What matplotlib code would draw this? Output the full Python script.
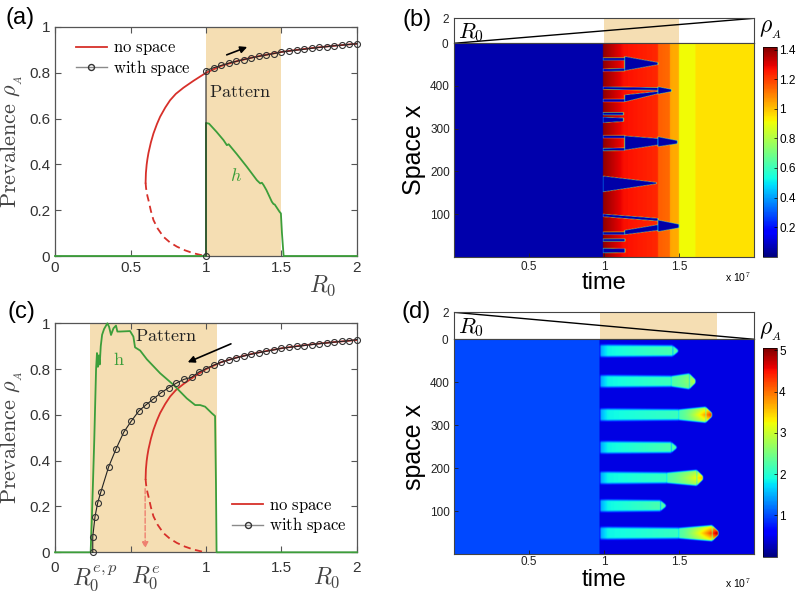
import numpy as np
import matplotlib
matplotlib.use('Agg')
import matplotlib.pyplot as plt
from matplotlib.lines import Line2D

plt.rcParams['mathtext.fontset'] = 'cm'
plt.rcParams['font.family'] = ['Liberation Sans', 'DejaVu Sans']

# ---------------- data: panels (a) and (c) ----------------
ns_stable_R0 = [0.600, 0.602, 0.607, 0.612, 0.619, 0.635, 0.652, 0.675, 0.696, 0.730, 0.762,
                0.800, 0.851, 0.917, 1.000, 1.100, 1.200, 1.300, 1.400, 1.500, 1.600, 1.700,
                1.800, 1.900, 2.000]
ns_stable_rho = [0.320, 0.362, 0.399, 0.423, 0.450, 0.496, 0.535, 0.576, 0.608, 0.648, 0.680,
                 0.708, 0.735, 0.765, 0.800, 0.830, 0.850, 0.866, 0.879, 0.891, 0.900, 0.908,
                 0.915, 0.921, 0.927]
ns_unstable_R0 = [0.600, 0.603, 0.607, 0.612, 0.619, 0.635, 0.652, 0.680, 0.718, 0.760, 0.807,
                  0.860, 0.917, 0.994]
ns_unstable_rho = [0.320, 0.297, 0.280, 0.262, 0.244, 0.197, 0.157, 0.120, 0.084, 0.060, 0.041,
                   0.025, 0.012, 0.000]

ws_a_R0 = [1.00, 1.00, 1.05, 1.10, 1.15, 1.20, 1.25, 1.30, 1.35, 1.40, 1.45, 1.50, 1.55, 1.60,
           1.65, 1.70, 1.75, 1.80, 1.85, 1.90, 1.95, 2.00]
ws_a_rho = [0.000, 0.810, 0.822, 0.832, 0.842, 0.850, 0.858, 0.865, 0.872, 0.878, 0.884, 0.891,
            0.895, 0.899, 0.903, 0.907, 0.911, 0.914, 0.918, 0.921, 0.924, 0.927]

h_a_R0 = [0.0, 1.0, 1.0, 1.02, 1.07, 1.116, 1.138, 1.15, 1.16, 1.204, 1.27, 1.337, 1.359, 1.37,
          1.381, 1.40, 1.436, 1.447, 1.455, 1.487, 1.496, 1.503, 1.514, 2.0]
h_a = [0.0, 0.0, 0.581, 0.578, 0.542, 0.506, 0.484, 0.488, 0.480, 0.445, 0.390, 0.331, 0.317,
       0.320, 0.310, 0.288, 0.237, 0.227, 0.225, 0.193, 0.186, 0.100, 0.0, 0.0]

ws_c_R0 = [0.25, 0.25, 0.265, 0.283, 0.303, 0.355, 0.404, 0.455, 0.504, 0.555, 0.601, 0.652,
           0.703, 0.754, 0.802, 0.853, 0.904, 0.952, 1.00, 1.05, 1.10, 1.15, 1.20, 1.25, 1.30,
           1.35, 1.40, 1.45, 1.50, 1.55, 1.60, 1.65, 1.70, 1.75, 1.80, 1.85, 1.90, 1.95, 2.00]
ws_c_rho = [0.000, 0.068, 0.156, 0.217, 0.262, 0.373, 0.451, 0.524, 0.572, 0.617, 0.643, 0.670,
            0.697, 0.719, 0.738, 0.755, 0.764, 0.787, 0.802, 0.817, 0.830, 0.840, 0.849, 0.857,
            0.865, 0.872, 0.878, 0.884, 0.891, 0.895, 0.899, 0.903, 0.907, 0.911, 0.914, 0.918,
            0.921, 0.924, 0.929]

h_c_R0 = [0.0, 0.236, 0.243, 0.250, 0.260, 0.272, 0.278, 0.284, 0.290, 0.296, 0.303, 0.312,
          0.325, 0.338, 0.347, 0.358, 0.371, 0.387, 0.404, 0.413, 0.431, 0.497, 0.519, 0.530,
          0.564, 0.608, 0.696, 0.785, 0.873, 0.928, 0.961, 0.994, 1.039, 1.060, 1.066, 1.070, 2.0]
h_c = [0.0, 0.0, 0.127, 0.272, 0.49, 0.80, 0.87, 0.81, 0.86, 0.82, 0.90, 0.95, 0.975, 0.99, 1.0,
       0.985, 0.949, 0.978, 0.99, 0.964, 0.964, 0.966, 0.942, 0.895, 0.881, 0.843, 0.782, 0.731,
       0.672, 0.643, 0.643, 0.636, 0.607, 0.595, 0.30, 0.0, 0.0]

pattern_a = (1.0, 1.5)
pattern_c = (0.235, 1.07)

# ---------------- data: panels (b) and (d) ----------------
time_scale = 1e7
strip_t = [0.0, 2.0]
strip_R0_b = [0.0, 2.0]
strip_R0_d = [2.0, 0.0]
pattern_b = (1.0, 1.5)
pattern_d = (0.97, 1.75)

# background of (b): time breakpoints and rho values at start / end of each interval
b_bg_t = [0.0, 0.993, 1.13, 1.36, 1.44, 1.50, 1.61, 2.0]
b_bg_v0 = [0.06, 1.40, 1.27, 1.15, 1.04, 0.915, 0.95]
b_bg_v1 = [0.06, 1.27, 1.23, 1.13, 1.03, 0.915, 0.95]
b_blue = 0.05
# blue (extinct) bands in (b): t_start, t_end, lo_start, hi_start, lo_end, hi_end (space)
b_bands = [
    (0.993, 1.138, 460, 466, 460, 466),
    (0.993, 1.138, 434, 440, 435, 441),
    (1.138, 1.360, 436, 469, 450, 455),
    (0.993, 1.360, 392, 398, 390, 396),
    (1.360, 1.450, 381, 398, 387, 392),
    (0.993, 1.138, 363, 369, 363, 369),
    (1.138, 1.360, 363, 379, 382, 387),
    (0.993, 1.130, 332, 338, 332, 338),
    (0.993, 1.130, 314, 327, 317, 325),
    (0.993, 1.138, 278, 284, 278, 284),
    (0.993, 1.138, 248, 254, 249, 255),
    (1.138, 1.360, 250, 283, 262, 277),
    (1.360, 1.490, 258, 281, 265, 272),
    (0.993, 1.350, 152, 189, 171, 174),
    (0.993, 1.360, 94, 100, 84, 90),
    (1.360, 1.500, 59, 86, 68, 76),
    (0.993, 1.138, 52, 58, 52, 58),
    (1.138, 1.360, 52, 62, 62, 75),
    (0.993, 1.140, 36, 42, 36, 42),
    (0.993, 1.140, 9, 20, 10, 19),
]

# (d): background levels and finger parameters
d_bg_left, d_bg_right, d_switch = 1.0, 0.45, 0.97
d_centers = [473, 402, 324, 248, 177, 112, 48]
d_tend = [1.495, 1.61, 1.72, 1.485, 1.66, 1.413, 1.763]
d_bulb_start = [0.0, 1.45, 1.50, 0.0, 1.42, 0.0, 1.50]
d_core = [2.2, 2.9, 4.4, 2.2, 3.6, 2.2, 5.0]
d_finger_vals = [1.45, 1.85, 2.25]   # start, after entry, at tip
d_half_width = 14
d_bulb_half_width = 18

# ---------------- styles ----------------
RED = '#D7302A'
GREEN = '#3C9E3A'
WHEAT = '#F5DEB3'
AX_COL = '#555555'
TXT_COL = '#333333'

W, H = 798, 596
fig = plt.figure(figsize=(W / 100, H / 100), dpi=100)


def ax_px(l, t, r, b):
    return fig.add_axes([l / W, 1 - b / H, (r - l) / W, (b - t) / H])


def ftext(x, y, s, **kw):
    fig.text(x / W, 1 - y / H, s, **kw)


def style_line_axes(ax):
    ax.set_xlim(0, 2)
    ax.set_ylim(0, 1)
    ax.set_xticks([0, 0.5, 1, 1.5, 2])
    ax.set_yticks([0, 0.2, 0.4, 0.6, 0.8, 1])
    ax.set_yticklabels(['0', '0.2', '0.4', '0.6', '0.8', '1'])
    ax.tick_params(direction='in', length=4, width=0.8, top=True, right=True,
                   labelsize=11, colors=AX_COL, labelcolor=TXT_COL)
    for sp in ax.spines.values():
        sp.set_color(AX_COL)
        sp.set_linewidth(0.9)


leg_handles = [Line2D([], [], color=RED, lw=1.3),
               Line2D([], [], color='#8a8a8a', lw=1.0, marker='o', ms=4.3, mfc='none', mec='#333333')]
leg_labels = [r'$\mathrm{no\ space}$', r'$\mathrm{with\ space}$']
leg_kw = dict(frameon=False, fontsize=12, handlelength=1.9, handletextpad=0.35,
              labelspacing=0.02, borderaxespad=0.2)

# ---------------- panel (a) ----------------
axa = ax_px(55, 27, 357, 256)
style_line_axes(axa)
axa.set_xticklabels(['0', '0.5', '1', '1.5', '2'])
axa.axvspan(*pattern_a, color=WHEAT, lw=0, zorder=0)
axa.plot(ns_stable_R0, ns_stable_rho, color=RED, lw=1.3, zorder=3)
axa.plot(ns_unstable_R0, ns_unstable_rho, color=RED, lw=1.3, ls=(0, (4, 2.5)), zorder=3)
axa.plot(h_a_R0, h_a, color=GREEN, lw=1.3, zorder=4, clip_on=False)
axa.plot(ws_a_R0, ws_a_rho, color='#222222', lw=0.8, marker='o', ms=4.3, mfc='none',
         mec='#333333', mew=0.8, zorder=5, clip_on=False)
axa.annotate('', xy=(1.29, 0.917), xytext=(1.12, 0.874),
             arrowprops=dict(arrowstyle='-|>', color='black', lw=1.2, mutation_scale=10))
axa.text(1.227, 0.712, r'$\mathrm{Pattern}$', fontsize=13, ha='center', va='center', color='#222222')
axa.text(1.2, 0.346, r'$h$', fontsize=13, ha='center', va='center', color=GREEN)
axa.legend(leg_handles, leg_labels, loc='upper left', bbox_to_anchor=(0.035, 0.985), **leg_kw)
axa.set_ylabel(r'$\mathrm{Prevalence}\ \rho_{_A}$', fontsize=16, color='#444444')
axa.yaxis.set_label_coords(-0.098, 0.5)
axa.text(0.887, -0.13, r'$R_0$', transform=axa.transAxes, fontsize=17, ha='center', va='center',
         color='#444444')

# ---------------- panel (c) ----------------
axc = ax_px(55, 323.3, 357, 552.3)
style_line_axes(axc)
axc.set_xticklabels(['0', '', '1', '1.5', '2'])
axc.tick_params(axis='x', pad=6)
axc.axvspan(*pattern_c, color=WHEAT, lw=0, zorder=0)
axc.plot(ns_stable_R0, ns_stable_rho, color=RED, lw=1.3, zorder=3)
axc.plot(ns_unstable_R0, ns_unstable_rho, color=RED, lw=1.3, ls=(0, (4, 2.5)), zorder=3)
axc.annotate('', xy=(0.597, 0.005), xytext=(0.597, 0.29),
             arrowprops=dict(arrowstyle='-|>', color='#EE8070', lw=1.0, ls='--',
                             mutation_scale=9), zorder=3)
axc.plot(h_c_R0, h_c, color=GREEN, lw=1.3, zorder=4, clip_on=False)
axc.plot(ws_c_R0, ws_c_rho, color='#222222', lw=0.8, marker='o', ms=4.3, mfc='none',
         mec='#333333', mew=0.8, zorder=5, clip_on=False)
axc.annotate('', xy=(0.862, 0.825), xytext=(1.182, 0.915),
             arrowprops=dict(arrowstyle='-|>', color='black', lw=1.2, mutation_scale=10))
axc.text(0.736, 0.942, r'$\mathrm{Pattern}$', fontsize=13, ha='center', va='center', color='#222222')
axc.text(0.42, 0.836, r'$\mathrm{h}$', fontsize=13, ha='center', va='center', color=GREEN)
axc.legend(leg_handles, leg_labels, loc='lower right', bbox_to_anchor=(1.0, 0.03), **leg_kw)
axc.set_ylabel(r'$\mathrm{Prevalence}\ \rho_{_A}$', fontsize=16, color='#444444')
axc.yaxis.set_label_coords(-0.098, 0.5)
axc.text(0.90, -0.112, r'$R_0$', transform=axc.transAxes, fontsize=17, ha='center', va='center',
         color='#444444')
axc.text(0.265, -0.112, r'$R_0^{e,p}$', transform=axc.get_xaxis_transform(), fontsize=17,
         ha='center', va='center', color='#444444')
axc.text(0.603, -0.112, r'$R_0^{e}$', transform=axc.get_xaxis_transform(), fontsize=17,
         ha='center', va='center', color='#444444')

# ---------------- heatmap fields ----------------
nt, nsp = 600, 430
t_grid = np.linspace(0, 2, nt)
s_grid = np.linspace(0, 500, nsp)
T, S = np.meshgrid(t_grid, s_grid)


def band(t0, t1, lo0, hi0, lo1, hi1, soft_s=1.6, soft_t=0.008):
    f = np.clip((T - t0) / (t1 - t0), 0, 1)
    lo = lo0 + (lo1 - lo0) * f
    hi = hi0 + (hi1 - hi0) * f
    ms = np.clip(np.minimum(S - lo, hi - S) / soft_s + 0.5, 0, 1)
    mt = np.clip(np.minimum(T - t0, t1 - T) / soft_t + 0.5, 0, 1)
    return ms * mt


# (b)
field_b = np.zeros_like(T)
for i in range(len(b_bg_v0)):
    ta, tb = b_bg_t[i], b_bg_t[i + 1]
    sel = (T >= ta) & (T <= tb)
    frac = (T - ta) / (tb - ta)
    field_b = np.where(sel, b_bg_v0[i] + (b_bg_v1[i] - b_bg_v0[i]) * frac, field_b)
mask_b = np.zeros_like(T)
for bd in b_bands:
    mask_b = np.maximum(mask_b, band(*bd))
field_b = field_b * (1 - mask_b) + b_blue * mask_b

# (d)
field_d = np.where(T < d_switch, d_bg_left, d_bg_right)
t0d = d_switch + 0.005
for c, te, tbulb, core in zip(d_centers, d_tend, d_bulb_start, d_core):
    hw = d_half_width
    tcap = te - 0.035 if tbulb == 0 else tbulb
    m = band(t0d, tcap, c - hw, c + hw, c - hw + 2, c + hw - 2, soft_s=7, soft_t=0.01)
    if tbulb == 0:
        m = np.maximum(m, band(tcap, te, c - hw + 2, c + hw - 2, c - 2, c + 2, soft_s=5, soft_t=0.01))
    vb = np.interp(T, [t0d, t0d + 0.05, te], d_finger_vals)
    field_d = np.maximum(field_d, field_d * (1 - m) + vb * m)
    if tbulb > 0:
        hb = d_bulb_half_width
        mb = np.maximum(band(tbulb, te - 0.04, c - hw + 2, c + hw - 2, c - hb, c + hb, soft_s=5),
                        band(te - 0.04, te, c - hb, c + hb, c - 4, c + 4, soft_s=4))
        ramp = np.clip((T - tbulb) / (te - tbulb), 0, 1) ** 1.6
        prof = np.clip(1 - np.abs(S - c) / hb, 0, 1)
        vbulb = d_finger_vals[2] + (core - d_finger_vals[2]) * ramp * (0.4 + 0.6 * prof)
        field_d = np.maximum(field_d, field_d * (1 - mb) + vbulb * mb)


def heat_panel(top_strip, top_img, bot_img, cb_top, cb_bot, field, vmax, cticks, strip_R0,
               pattern, ylab, xlab_y, exp_y, tpad):
    axs = ax_px(454, top_strip, 754, top_img)
    axs.set_xlim(0, 2 * time_scale)
    axs.set_ylim(0, 2)
    axs.axvspan(pattern[0] * time_scale, pattern[1] * time_scale, color=WHEAT, lw=0)
    axs.plot(np.array(strip_t) * time_scale, strip_R0, color='black', lw=1.0)
    axs.set_xticks([])
    axs.set_yticks([0, 2])
    axs.tick_params(axis='y', length=0, labelsize=8.5, pad=4, colors='#222222')
    for sp in axs.spines.values():
        sp.set_color('#444444')
        sp.set_linewidth(0.8)
    axs.text(0.012, 0.43, r'$R_0$', transform=axs.transAxes, fontsize=16, ha='left', va='center')

    axi = ax_px(454, top_img, 754, bot_img)
    im = axi.imshow(field, origin='lower', aspect='auto', cmap='jet', vmin=0, vmax=vmax,
                    extent=[0, 2 * time_scale, 0, 500], interpolation='bilinear')
    axi.set_xlim(0, 2 * time_scale)
    axi.set_ylim(0, 500)
    axi.set_xticks([0.5 * time_scale, 1.0 * time_scale, 1.5 * time_scale])
    axi.set_xticklabels(['0.5', '1', '1.5'])
    axi.set_yticks([100, 200, 300, 400])
    axi.tick_params(direction='in', length=3, width=0.6, labelsize=8.5, colors='#222222', pad=3)
    axi.tick_params(axis='x', pad=tpad)
    for sp in axi.spines.values():
        sp.set_color('#444444')
        sp.set_linewidth(0.8)
    axi.set_ylabel(ylab, fontsize=18)
    axi.yaxis.set_label_coords(-0.092, 0.5)
    axi.set_xlabel('time', fontsize=17)
    axi.xaxis.set_label_coords(0.5, xlab_y)
    axi.text(0.99, exp_y, r'x 10$^{7}$', transform=axi.transAxes, fontsize=7.5,
             ha='right', va='top')

    cax = ax_px(763, cb_top, 777, cb_bot)
    cb = fig.colorbar(im, cax=cax, ticks=cticks)
    cb.ax.tick_params(labelsize=8.5, length=2, width=0.5, direction='in', pad=1.5)
    cb.outline.set_linewidth(0.5)
    cb.ax.set_yticklabels([('%g' % v) for v in cticks])
    ftext(771, cb_top - 17, r'$\rho_{_A}$', fontsize=17, ha='center', va='center')
    return axs, axi


heat_panel(18.3, 43.3, 256.7, 46.7, 256.7, field_b, 1.42, [0.2, 0.4, 0.6, 0.8, 1.0, 1.2, 1.4],
           strip_R0_b, pattern_b, 'Space x', -0.072, -0.062, 3)
heat_panel(312.3, 339.3, 554.3, 348.3, 556.7, field_d, 5.05, [1, 2, 3, 4, 5],
           strip_R0_d, pattern_d, 'space x', -0.07, -0.105, 1.5)

# panel letters
ftext(20, 18, '(a)', fontsize=17, ha='center', va='center')
ftext(417, 20, '(b)', fontsize=17, ha='center', va='center')
ftext(21, 312, '(c)', fontsize=17, ha='center', va='center')
ftext(416, 312, '(d)', fontsize=17, ha='center', va='center')

fig.savefig('out.png', dpi=100)
